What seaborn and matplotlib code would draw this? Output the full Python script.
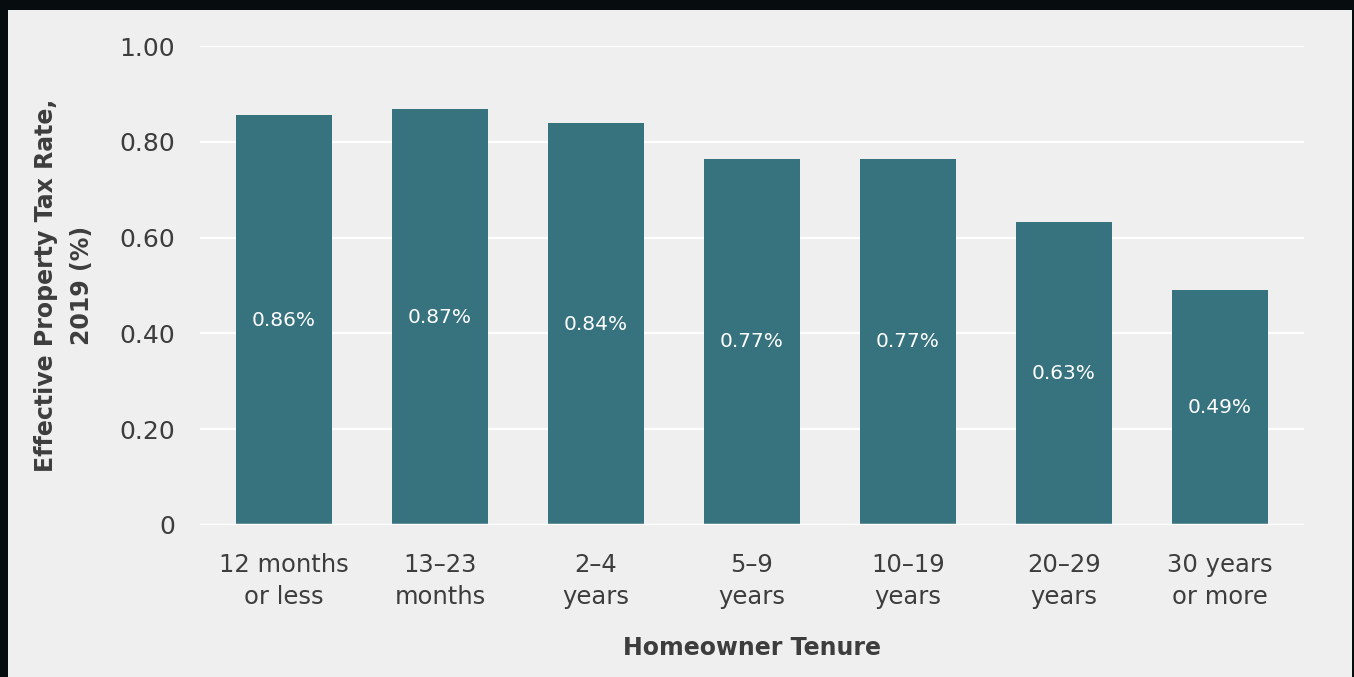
import matplotlib
matplotlib.use("Agg")
import pandas as pd
import seaborn as sns
import matplotlib.pyplot as plt
from matplotlib.patches import Rectangle

# data
tenure = ["12 months\nor less", "13\u201323\nmonths", "2\u20134\nyears", "5\u20139\nyears",
          "10\u201319\nyears", "20\u201329\nyears", "30 years\nor more"]
tax_rate = [0.855, 0.868, 0.839, 0.765, 0.765, 0.633, 0.490]
rate_labels = ["0.86%", "0.87%", "0.84%", "0.77%", "0.77%", "0.63%", "0.49%"]
y_ticks = [0, 0.2, 0.4, 0.6, 0.8, 1.0]
y_tick_labels = ["0", "0.20", "0.40", "0.60", "0.80", "1.00"]

BG = "#eeefee"
BAR = "#37727f"
TXT = "#3d3d3d"


def main():
    sns.set_theme(style="white")
    plt.rcParams["font.family"] = ["DejaVu Sans"]

    df = pd.DataFrame({"tenure": tenure, "rate": tax_rate})

    fig = plt.figure(figsize=(13.54, 6.77), dpi=100, facecolor="#070c0e")
    # light panel inside the dark frame
    fig.patches.append(Rectangle((8 / 1354, 0), 1344 / 1354, 667 / 677,
                                 transform=fig.transFigure, facecolor=BG,
                                 edgecolor="none", zorder=-10))
    ax = fig.add_axes([200 / 1354, 1 - 525 / 677, 1104 / 1354, 479 / 677])
    ax.set_facecolor(BG)

    sns.barplot(data=df, x="tenure", y="rate", color=BAR, width=0.615,
                saturation=1, linewidth=0, ax=ax, zorder=3)

    ax.bar_label(ax.containers[0], labels=rate_labels, label_type="center",
                 color="white", fontsize=14.5)

    ax.set_ylim(0, 1.0)
    ax.set_xlim(-0.538, 6.538)
    ax.set_yticks(y_ticks)
    ax.set_yticklabels(y_tick_labels)
    ax.yaxis.grid(True, color="white", linewidth=1.6, zorder=0)
    ax.axhline(0, color="white", linewidth=2.5, zorder=4)
    ax.set_axisbelow(True)
    for s in ax.spines.values():
        s.set_visible(False)

    ax.tick_params(axis="y", length=0, pad=18, labelsize=18, labelcolor=TXT)
    ax.tick_params(axis="x", length=0, pad=20, labelsize=17.5, labelcolor=TXT)
    for t in ax.get_xticklabels():
        t.set_linespacing(1.45)

    ax.set_xlabel("Homeowner Tenure", fontsize=17, fontweight="bold", color=TXT, labelpad=19)
    ax.set_ylabel("Effective Property Tax Rate,\n2019 (%)", fontsize=17, fontweight="bold",
                  color=TXT, labelpad=18, linespacing=1.65)

    fig.savefig("out.png", dpi=100, facecolor=fig.get_facecolor())


if __name__ == '__main__':
    main()
